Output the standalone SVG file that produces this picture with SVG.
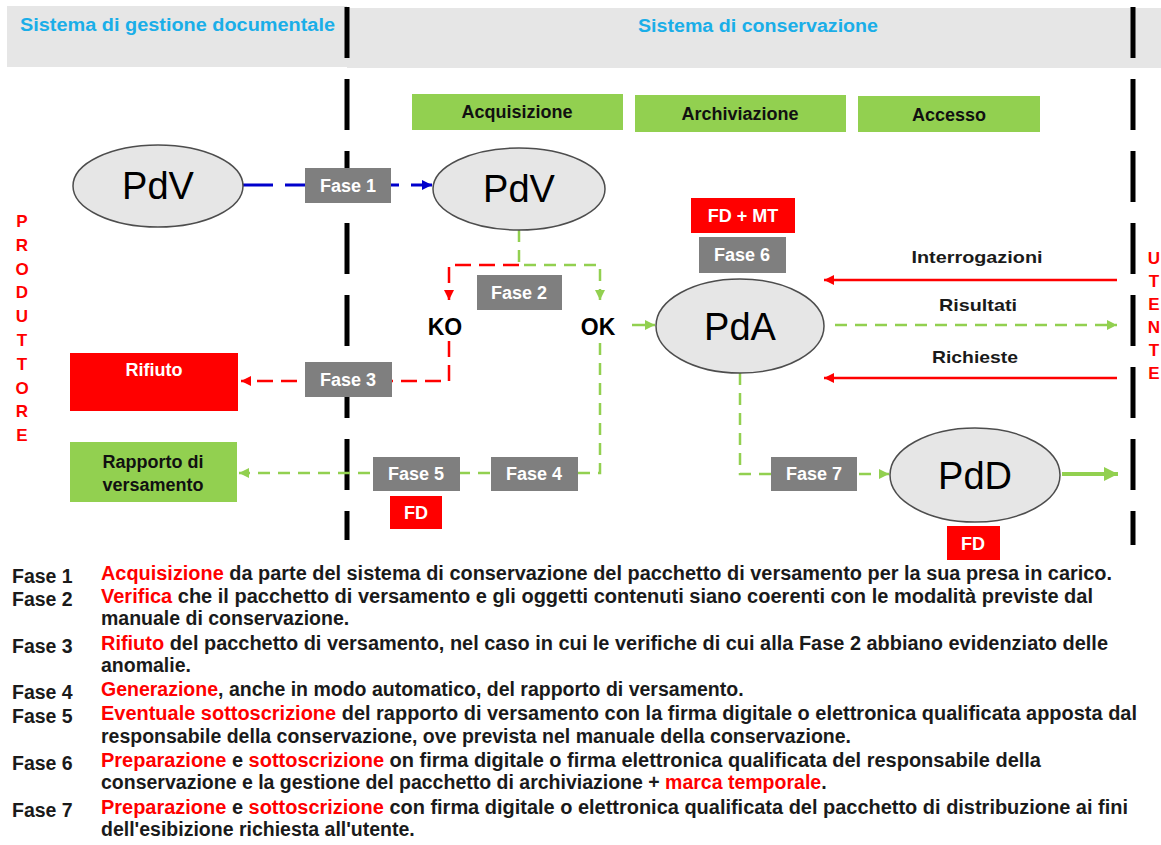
<svg xmlns="http://www.w3.org/2000/svg" width="1161" height="845" viewBox="0 0 1161 845">
<defs>
<style>
text{font-family:"Liberation Sans",Arial,sans-serif;font-weight:bold}
.hdr{fill:#e6e6e6}
.title{fill:#1aaee8;font-size:18px}
.div{stroke:#000;stroke-width:5;stroke-dasharray:51 21;fill:none}
.phase{fill:#92d050}
.phase-t{fill:#111;font-size:18px;text-anchor:middle}
.fase{fill:#7f7f7f}
.fase-t{fill:#fff;font-size:18px;text-anchor:middle}
.redbox{fill:#ff0000}
.red-t{fill:#fff;font-size:18px;text-anchor:middle}
.pkg{fill:#e6e6e6;stroke:#4d4d4d;stroke-width:1.5}
.pkg-t{font-weight:normal;font-size:38px;text-anchor:middle;fill:#000}
.vert{fill:#ff0000;font-size:17px;text-anchor:middle}
.lbl{fill:#1a1a1a;font-size:17px;text-anchor:middle}
.kook{fill:#000;font-size:23px;text-anchor:middle}
.desc{font-size:19.5px;fill:#1a1a1a}
.hl{fill:#ff0000}
.c-blue{stroke:#0000cc;stroke-width:3;stroke-dasharray:30 12;fill:none}
.c-green{stroke:#92d050;stroke-width:2.5;stroke-dasharray:12 8;fill:none}
.c-red{stroke:#ff0000;stroke-width:2.5;stroke-dasharray:16 8;fill:none}
.c-red-solid{stroke:#ff0000;stroke-width:2.5;fill:none}
.c-green-solid{stroke:#92d050;stroke-width:2.5;fill:none}
.c-green-thick{stroke:#92d050;stroke-width:4;fill:none}
</style>
<marker id="aBlue" markerUnits="userSpaceOnUse" markerWidth="11" markerHeight="10" viewBox="0 0 10 10" refX="10" refY="5" orient="auto"><path d="M0,0L10,5L0,10z" fill="#0000cc"/></marker>
<marker id="aGreen" markerUnits="userSpaceOnUse" markerWidth="10" markerHeight="10" viewBox="0 0 10 10" refX="10" refY="5" orient="auto"><path d="M0,0L10,5L0,10z" fill="#92d050"/></marker>
<marker id="aRed" markerUnits="userSpaceOnUse" markerWidth="10" markerHeight="10" viewBox="0 0 10 10" refX="10" refY="5" orient="auto"><path d="M0,0L10,5L0,10z" fill="#ff0000"/></marker>
<marker id="aGreenBig" markerUnits="userSpaceOnUse" markerWidth="16" markerHeight="14" viewBox="0 0 10 10" refX="10" refY="5" orient="auto"><path d="M0,0L10,5L0,10z" fill="#92d050"/></marker>
</defs>

<g id="header">
<rect class="hdr" x="7" y="6" width="340" height="61"/>
<rect class="hdr" x="347" y="8" width="814" height="60"/>
<text class="title" x="20" y="31" textLength="315" lengthAdjust="spacingAndGlyphs">Sistema di gestione documentale</text>
<text class="title" x="638" y="32" textLength="240" lengthAdjust="spacingAndGlyphs">Sistema di conservazione</text>
</g>

<g id="dividers">
<line class="div" x1="347" y1="7" x2="347" y2="540"/>
<line class="div" x1="1133" y1="7" x2="1133" y2="545"/>
</g>

<g id="phases">
<g id="acquisizione"><rect class="phase" x="412" y="94" width="211" height="36"/><text class="phase-t" x="517" y="118">Acquisizione</text></g>
<g id="archiviazione"><rect class="phase" x="635" y="95" width="211" height="37"/><text class="phase-t" x="740" y="120">Archiviazione</text></g>
<g id="accesso"><rect class="phase" x="858" y="96" width="182" height="36"/><text class="phase-t" x="949" y="121">Accesso</text></g>
</g>

<g id="side-labels">
<text class="vert" x="22"><tspan x="22" y="227">P</tspan><tspan x="22" y="251">R</tspan><tspan x="22" y="275">O</tspan><tspan x="22" y="298">D</tspan><tspan x="22" y="322">U</tspan><tspan x="22" y="346">T</tspan><tspan x="22" y="370">T</tspan><tspan x="22" y="394">O</tspan><tspan x="22" y="417">R</tspan><tspan x="22" y="441">E</tspan></text>
<text class="vert" x="1154"><tspan x="1154" y="264">U</tspan><tspan x="1154" y="287">T</tspan><tspan x="1154" y="310">E</tspan><tspan x="1154" y="333">N</tspan><tspan x="1154" y="356">T</tspan><tspan x="1154" y="379">E</tspan></text>
</g>

<g id="connectors">
<line class="c-blue" x1="243" y1="185" x2="432" y2="185" marker-end="url(#aBlue)"/>
<path class="c-green" d="M519,230 V265 H600 V300" marker-end="url(#aGreen)"/>
<path class="c-red" d="M519,265 H449 V300" marker-end="url(#aRed)"/>
<line class="c-green-solid" x1="632" y1="325" x2="655" y2="325" marker-end="url(#aGreen)"/>
<path class="c-red" d="M449,341 V381 H241" marker-end="url(#aRed)"/>
<path class="c-green" d="M600,343 V473 H239" marker-end="url(#aGreen)"/>
<path class="c-green" d="M740,373 V474 H889" marker-end="url(#aGreen)"/>
<line class="c-green-thick" x1="1062" y1="474" x2="1118" y2="474" marker-end="url(#aGreenBig)"/>
<line class="c-red-solid" x1="1117" y1="280" x2="824" y2="280" marker-end="url(#aRed)"/>
<line class="c-green" x1="835" y1="325" x2="1117" y2="325" marker-end="url(#aGreen)"/>
<line class="c-red-solid" x1="1117" y1="378" x2="824" y2="378" marker-end="url(#aRed)"/>
</g>

<g id="connector-labels">
<text class="lbl" x="977" y="263" textLength="131" lengthAdjust="spacingAndGlyphs">Interrogazioni</text>
<text class="lbl" x="978" y="311" textLength="78" lengthAdjust="spacingAndGlyphs">Risultati</text>
<text class="lbl" x="975" y="363" textLength="86" lengthAdjust="spacingAndGlyphs">Richieste</text>
<text class="kook" x="445" y="335">KO</text>
<text class="kook" x="598" y="335">OK</text>
</g>

<g id="pdv-produttore"><ellipse class="pkg" cx="158" cy="186" rx="85" ry="41"/><text class="pkg-t" x="158" y="199">PdV</text></g>
<g id="pdv-conservazione"><ellipse class="pkg" cx="519" cy="189" rx="86" ry="41"/><text class="pkg-t" x="519" y="202">PdV</text></g>
<g id="pda"><ellipse class="pkg" cx="740" cy="326" rx="84" ry="47"/><text class="pkg-t" x="740" y="340">PdA</text></g>
<g id="pdd"><ellipse class="pkg" cx="975" cy="475" rx="85" ry="47"/><text class="pkg-t" x="975" y="489">PdD</text></g>

<g id="fase1"><rect class="fase" x="305" y="168" width="86" height="35"/><text class="fase-t" x="348" y="192">Fase 1</text></g>
<g id="fase2"><rect class="fase" x="477" y="275" width="85" height="35"/><text class="fase-t" x="519" y="299">Fase 2</text></g>
<g id="fase3"><rect class="fase" x="305" y="362" width="87" height="35"/><text class="fase-t" x="348" y="386">Fase 3</text></g>
<g id="fase4"><rect class="fase" x="491" y="457" width="87" height="34"/><text class="fase-t" x="534" y="480">Fase 4</text></g>
<g id="fase5"><rect class="fase" x="373" y="457" width="87" height="34"/><text class="fase-t" x="416" y="480">Fase 5</text></g>
<g id="fase6"><rect class="fase" x="699" y="237" width="87" height="36"/><text class="fase-t" x="742" y="261">Fase 6</text></g>
<g id="fase7"><rect class="fase" x="771" y="457" width="86" height="34"/><text class="fase-t" x="814" y="480">Fase 7</text></g>

<g id="fd-mt"><rect class="redbox" x="691" y="198" width="104" height="35"/><text class="red-t" x="743" y="222">FD + MT</text></g>
<g id="fd5"><rect class="redbox" x="390" y="496" width="52" height="33"/><text class="red-t" x="416" y="519">FD</text></g>
<g id="fd7"><rect class="redbox" x="947" y="526" width="53" height="34"/><text class="red-t" x="973" y="550">FD</text></g>

<g id="rifiuto"><rect class="redbox" x="70" y="353" width="168" height="58"/><text class="red-t" x="154" y="376">Rifiuto</text></g>
<g id="rapporto"><rect class="phase" x="70" y="442" width="167" height="60"/><text class="phase-t" x="153" y="468">Rapporto di</text><text class="phase-t" x="153" y="491">versamento</text></g>

<g id="legend">
<text class="desc" x="12" y="583">Fase 1</text>
<text class="desc" x="101" y="580" textLength="1011" lengthAdjust="spacingAndGlyphs"><tspan class="hl">Acquisizione</tspan> da parte del sistema di conservazione del pacchetto di versamento per la sua presa in carico.</text>
<text class="desc" x="12" y="606">Fase 2</text>
<text class="desc" x="101" y="603" textLength="992" lengthAdjust="spacingAndGlyphs"><tspan class="hl">Verifica</tspan> che il pacchetto di versamento e gli oggetti contenuti siano coerenti con le modalità previste dal</text>
<text class="desc" x="101" y="625">manuale di conservazione.</text>
<text class="desc" x="12" y="653">Fase 3</text>
<text class="desc" x="101" y="650" textLength="1007" lengthAdjust="spacingAndGlyphs"><tspan class="hl">Rifiuto</tspan> del pacchetto di versamento, nel caso in cui le verifiche di cui alla Fase 2 abbiano evidenziato delle</text>
<text class="desc" x="101" y="672">anomalie.</text>
<text class="desc" x="12" y="699">Fase 4</text>
<text class="desc" x="101" y="696"><tspan class="hl">Generazione</tspan>, anche in modo automatico, del rapporto di versamento.</text>
<text class="desc" x="12" y="723">Fase 5</text>
<text class="desc" x="101" y="720" textLength="1036" lengthAdjust="spacingAndGlyphs"><tspan class="hl">Eventuale sottoscrizione</tspan> del rapporto di versamento con la firma digitale o elettronica qualificata apposta dal</text>
<text class="desc" x="101" y="743">responsabile della conservazione, ove prevista nel manuale della conservazione.</text>
<text class="desc" x="12" y="770">Fase 6</text>
<text class="desc" x="101" y="767" textLength="940" lengthAdjust="spacingAndGlyphs"><tspan class="hl">Preparazione</tspan> e <tspan class="hl">sottoscrizione</tspan> on firma digitale o firma elettronica qualificata del responsabile della</text>
<text class="desc" x="101" y="789"><tspan>conservazione e la gestione del pacchetto di archiviazione + </tspan><tspan class="hl">marca temporale</tspan><tspan>.</tspan></text>
<text class="desc" x="12" y="817">Fase 7</text>
<text class="desc" x="101" y="814" textLength="1027" lengthAdjust="spacingAndGlyphs"><tspan class="hl">Preparazione</tspan> e <tspan class="hl">sottoscrizione</tspan> con firma digitale o elettronica qualificata del pacchetto di distribuzione ai fini</text>
<text class="desc" x="101" y="836">dell'esibizione richiesta all'utente.</text>
</g>
</svg>
